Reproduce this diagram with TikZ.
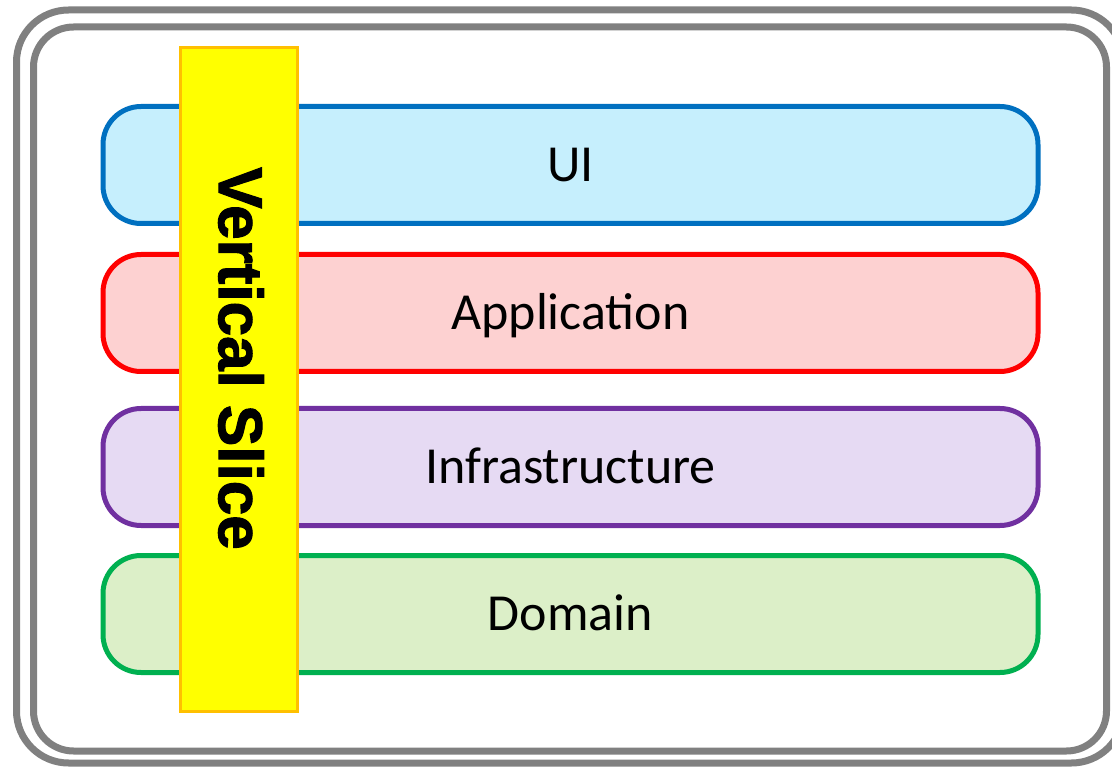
\documentclass[tikz,border=0pt]{standalone}
\usepackage{fontspec}
\setmainfont{Carlito}
\newfontfamily\slicefont[BoldFeatures={FakeBold=1.8}]{Liberation Sans}
\usetikzlibrary{positioning}
\definecolor{uiline}{HTML}{0070C0}
\definecolor{uifill}{HTML}{C6EFFD}
\definecolor{appline}{HTML}{FF0000}
\definecolor{appfill}{HTML}{FDD1D1}
\definecolor{infraline}{HTML}{7030A0}
\definecolor{infrafill}{HTML}{E6DAF3}
\definecolor{domline}{HTML}{00B050}
\definecolor{domfill}{HTML}{DCEFC8}
\definecolor{sliceline}{HTML}{FFC000}
\definecolor{slicefill}{HTML}{FFFF00}

\begin{document}
\begin{tikzpicture}[x=1pt, y=-1pt, node distance=31pt]
    \tikzstyle{frame}=[draw=black!50, line width=7pt]
    \tikzstyle{layer}=[rectangle, rounded corners=38pt, line width=5pt, outer sep=0pt, minimum width=935pt, minimum height=117pt, inner sep=0pt, text height=33.5pt, text depth=0pt, font=\fontsize{52}{60}\selectfont]
    \tikzstyle{slice}=[rectangle, fill=slicefill, draw=sliceline, line width=3pt, minimum width=117pt, minimum height=663pt, inner sep=0pt]

    \useasboundingbox (0,0) rectangle (1112,767);
    \clip (0,0) rectangle (1112,767);

    % double frame
    \draw[frame, rounded corners=52pt] (16.5,10) rectangle (1123.5,763);
    \draw[frame, rounded corners=40pt] (33.5,27) rectangle (1106.5,751);

    % layers
    \node[layer, draw=uiline, fill=uifill] (UI) at (570.5,165) {UI};
    \node[layer, draw=appline, fill=appfill, below=31pt of UI] (App) {Application};
    \node[layer, draw=infraline, fill=infrafill, below=37pt of App] (Infra) {Infrastructure};
    \node[layer, draw=domline, fill=domfill, below=30pt of Infra] (Dom) {Domain};

    % the slice across all layers
    \node[slice] (slice) at (239,379.5) {};
    \node[rotate=-90, inner sep=0pt, font=\slicefont\bfseries\fontsize{62}{62}\selectfont] (slicetext) at (241,358.5) {Vertical Slice};
\end{tikzpicture}
\end{document}
